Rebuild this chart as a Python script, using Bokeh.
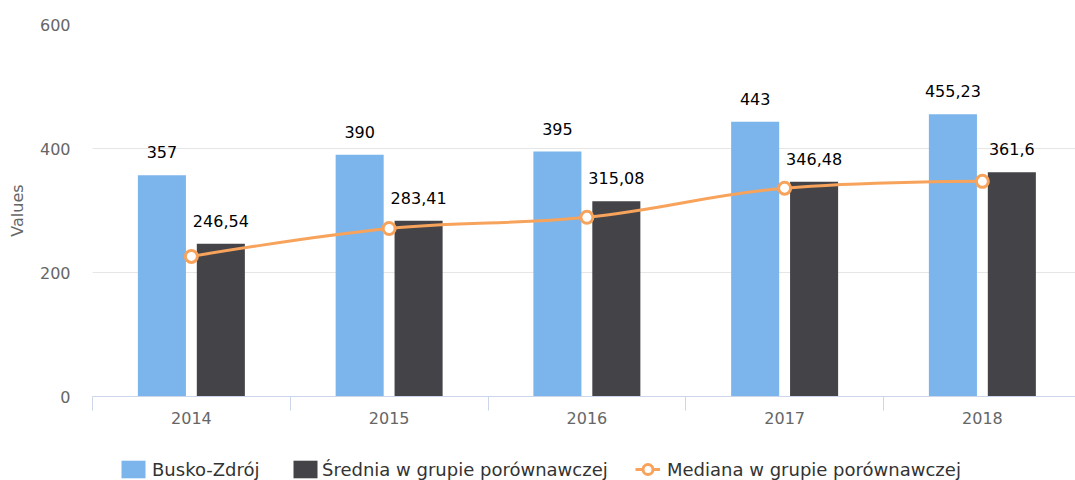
from bokeh.plotting import figure
from bokeh.layouts import column
from bokeh.models import (ColumnDataSource, LabelSet, Legend, LegendItem, FixedTicker,
                          Range1d, LinearAxis, Grid)
from bokeh.core.properties import value
from bokeh.embed import file_html
from bokeh.resources import INLINE

# ---- data ----
years = ["2014", "2015", "2016", "2017", "2018"]
busko = [357, 390, 395, 443, 455.23]
srednia = [246.54, 283.41, 315.08, 346.48, 361.6]
mediana = [226, 271, 289, 336, 347]
y_ticks = [0, 200, 400, 600]

names = ["Busko-Zdrój", "Średnia w grupie porównawczej", "Mediana w grupie porównawczej"]
colors = ["#7cb5ec", "#434348", "#f7a35c"]

FONT = "DejaVu Sans"

def fmt(v):
    return f"{v:g}".replace(".", ",")

centers = [i + 0.5 for i in range(len(years))]
off = 0.149
bw = 0.243

src_b = ColumnDataSource(dict(x=[c - off for c in centers], top=busko, lab=[fmt(v) for v in busko]))
src_s = ColumnDataSource(dict(x=[c + off for c in centers], top=srednia, lab=[fmt(v) for v in srednia]))
src_m = ColumnDataSource(dict(x=centers, y=mediana))

# Highcharts-style spline control points
def spline(xs, ys, smoothing=1.5):
    n = len(xs)
    d = smoothing + 1
    left = [None] * n
    right = [None] * n
    for i in range(1, n - 1):
        lx, ly = xs[i - 1], ys[i - 1]
        nx, ny = xs[i + 1], ys[i + 1]
        px, py = xs[i], ys[i]
        lcx = (smoothing * px + lx) / d
        lcy = (smoothing * py + ly) / d
        rcx = (smoothing * px + nx) / d
        rcy = (smoothing * py + ny) / d
        if rcx != lcx:
            corr = ((rcy - lcy) * (rcx - px)) / (rcx - lcx) + py - rcy
            lcy += corr
            rcy += corr
        if lcy > max(ly, py):
            lcy = max(ly, py); rcy = 2 * py - lcy
        elif lcy < min(ly, py):
            lcy = min(ly, py); rcy = 2 * py - lcy
        if rcy > max(py, ny):
            rcy = max(py, ny); lcy = 2 * py - rcy
        elif rcy < min(py, ny):
            rcy = min(py, ny); lcy = 2 * py - rcy
        left[i] = (lcx, lcy)
        right[i] = (rcx, rcy)
    seg = dict(x0=[], y0=[], x1=[], y1=[], cx0=[], cy0=[], cx1=[], cy1=[])
    for i in range(1, n):
        p0 = (xs[i - 1], ys[i - 1]); p1 = (xs[i], ys[i])
        c0 = right[i - 1] or p0
        c1 = left[i] or p1
        seg["x0"].append(p0[0]); seg["y0"].append(p0[1])
        seg["x1"].append(p1[0]); seg["y1"].append(p1[1])
        seg["cx0"].append(c0[0]); seg["cy0"].append(c0[1])
        seg["cx1"].append(c1[0]); seg["cy1"].append(c1[1])
    return seg

src_curve = ColumnDataSource(spline(centers, mediana))

W = 1075
H_MAIN, H_LEG = 440, 40
LEFT = 92
p = figure(width=W, height=H_MAIN, output_backend="svg", toolbar_location=None,
           x_range=Range1d(0, (W - LEFT) / 197.75), y_range=Range1d(0, 600),
           min_border_left=LEFT, min_border_right=0, min_border_top=24, min_border_bottom=44,
           x_axis_type=None, y_axis_type=None)
p.outline_line_color = None
p.background_fill_color = "white"
p.border_fill_color = "white"

# y axis
yax = LinearAxis(ticker=FixedTicker(ticks=y_ticks, minor_ticks=[]))
yax.axis_line_color = None
yax.major_tick_line_color = None
yax.minor_tick_line_color = None
yax.major_tick_out = 0
yax.major_tick_in = 0
yax.major_label_standoff = 22
yax.major_label_text_font = FONT
yax.major_label_text_font_size = "16px"
yax.major_label_text_color = "#666666"
yax.axis_label = "Values"
yax.axis_label_text_font = FONT
yax.axis_label_text_font_size = "16px"
yax.axis_label_text_font_style = "normal"
yax.axis_label_text_color = "#666666"
yax.axis_label_standoff = 10
p.add_layout(yax, "left")

# x axis
xax = LinearAxis(ticker=FixedTicker(ticks=centers, minor_ticks=list(range(len(years) + 1))))
xax.major_label_overrides = {c: y for c, y in zip(centers, years)}
xax.axis_line_color = "#ccd6eb"
xax.major_tick_line_color = None
xax.major_tick_out = 0
xax.major_tick_in = 0
xax.minor_tick_line_color = "#ccd6eb"
xax.minor_tick_out = 14
xax.minor_tick_in = 0
xax.major_label_standoff = 1
xax.major_label_text_font = FONT
xax.major_label_text_font_size = "16px"
xax.major_label_text_color = "#666666"
p.add_layout(xax, "below")

p.add_layout(Grid(dimension=1, ticker=FixedTicker(ticks=y_ticks), grid_line_color="#e6e6e6"))

p.vbar(x="x", top="top", width=bw, source=src_b, fill_color=colors[0], line_color=None)
p.vbar(x="x", top="top", width=bw, source=src_s, fill_color=colors[1], line_color=None)
p.bezier(x0="x0", y0="y0", x1="x1", y1="y1", cx0="cx0", cy0="cy0", cx1="cx1", cy1="cy1",
         source=src_curve, line_color=colors[2], line_width=3)
p.scatter(x="x", y="y", source=src_m, size=12, marker="circle", fill_color="white",
          line_color=colors[2], line_width=3)

for src in (src_b, src_s):
    p.add_layout(LabelSet(x="x", y="top", text="lab", source=src, text_align="center",
                          text_baseline="alphabetic", y_offset=17, text_font=value(FONT),
                          text_font_size="16px", text_color="#000000"))

# ---- legend strip (frame aligned with the main plot's frame) ----
q = figure(width=W, height=H_LEG, output_backend="svg", toolbar_location=None,
           x_range=Range1d(-20, -19), y_range=Range1d(0, 1), min_border=0,
           x_axis_type=None, y_axis_type=None)
q.outline_line_color = None
q.background_fill_color = "white"
q.border_fill_color = "white"
# same series, kept outside the strip's visible range: only their legend swatches show
lb = q.vbar(x="x", top="top", width=bw, source=src_b, fill_color=colors[0], line_color=None)
ls = q.vbar(x="x", top="top", width=bw, source=src_s, fill_color=colors[1], line_color=None)
ll = q.line(x="x", y="y", source=src_m, line_color=colors[2], line_width=3)
lm = q.scatter(x="x", y="y", source=src_m, marker="circle", size=12, fill_color="white",
               line_color=colors[2], line_width=3)

def mk_legend(item, loc, gw, gh, standoff):
    lg = Legend(items=[item], location=loc, orientation="horizontal", padding=0, margin=0,
                spacing=0, glyph_width=gw, glyph_height=gh, label_height=gh,
                label_standoff=standoff, border_line_color=None, background_fill_alpha=0,
                label_text_font=FONT, label_text_font_size="18px", label_text_color="#333333")
    q.add_layout(lg)

mk_legend(LegendItem(label=names[0], renderers=[lb]), (118 - LEFT, 0), 30, 22, 4)
mk_legend(LegendItem(label=names[1], renderers=[ls]), (290 - LEFT, 0), 30, 22, 2)
mk_legend(LegendItem(label=names[2], renderers=[ll, lm]), (635 - LEFT, -4), 25, 30, 7)

open("out.html", "w").write(file_html(column(p, q, spacing=0), INLINE))
